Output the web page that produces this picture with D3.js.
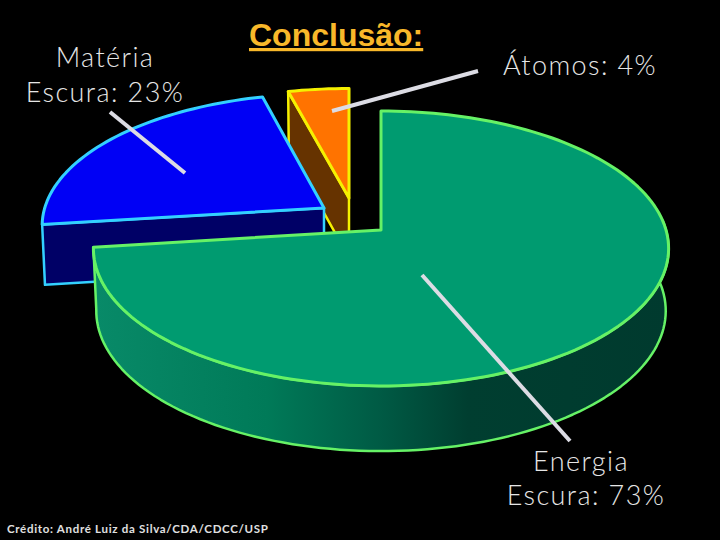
<!DOCTYPE html>
<html><head><meta charset="utf-8">
<script src="https://cdnjs.cloudflare.com/ajax/libs/d3/7.8.5/d3.min.js"></script>
<style>html,body{margin:0;padding:0;background:#000}svg{display:block}</style>
</head><body><svg id="c" width="720" height="540"></svg>
<script>
const categories = ["Energia Escura","Matéria Escura","Átomos"];
const values = [73,23,4];
const topColors = ["#009b70","#0000f5","#ff7300"];
const sideColors = ["url(#greenSide)","#000066","#663300"];
const strokes = ["#66f266","#33d0ff","#f5f000"];
const apexX = [381,324,349];
const apexY = [230,208,198];
const scaleX = [1,0.98,0.97];
const scaleY = [1,0.96,0.92];
const depth = [62,60,60];
const labelLines = [["Matéria","Escura: 23%"],["Átomos: 4%"],["Energia","Escura: 73%"]];

const svg = d3.select("#c");
const W=720,H=540;
svg.append("rect").attr("width",W).attr("height",H).attr("fill","#000");
const defs = svg.append("defs");
const grad = defs.append("linearGradient").attr("id","greenSide")
  .attr("gradientUnits","userSpaceOnUse").attr("x1",95).attr("x2",669).attr("y1",0).attr("y2",0);
[[0,"#088a68"],[0.3,"#007a58"],[0.5,"#005a44"],[0.65,"#003e30"],[1,"#003a2e"]]
 .forEach(s=>grad.append("stop").attr("offset",s[0]).attr("stop-color",s[1]));

const pie = d3.pie().sort(null)(values);
const K=-0.1345, B=285, A=135, SX=0.99, SY=1.02;
function proj(ang,r,i,low){
  const u=Math.sin(ang)*r, v=-Math.cos(ang)*r, w=1+K*v;
  let x=B*u/w*scaleX[i], y=A*v/w*scaleY[i];
  if(low){x*=SX;y=y*SY+depth[i];}
  return [apexX[i]+x,apexY[i]+y];
}
const line=d3.line();
function arcPts(a0,a1,i,low){
  const n=Math.max(2,Math.ceil((a1-a0)/0.03));
  return d3.range(n+1).map(k=>proj(a0+(a1-a0)*k/n,1,i,low));
}
function drawSide(i,pts,fill){
  svg.append("path").attr("d",line(pts)+"Z").attr("fill",fill)
    .attr("stroke",strokes[i]).attr("stroke-width",2.5).attr("stroke-linejoin","round");
}
function wall(i,ang){
  const c=proj(0,0,i,false), cl=proj(0,0,i,true), p=proj(ang,1,i,false), pl=proj(ang,1,i,true);
  drawSide(i,[c,p,pl,cl],sideColors[i]);
}
function rim(i,a0,a1){
  const t=arcPts(a0,a1,i,false), b=arcPts(a0,a1,i,true).reverse();
  drawSide(i,t.concat(b),sideColors[i]);
}
function topFace(d,i){
  const pts=[proj(0,0,i,false)].concat(arcPts(d.startAngle,d.endAngle,i,false));
  svg.append("path").attr("d",line(pts)+"Z").attr("fill",topColors[i])
    .attr("stroke",strokes[i]).attr("stroke-width",3).attr("stroke-linejoin","round");
}
wall(2,pie[2].startAngle); topFace(pie[2],2);
wall(1,pie[1].startAngle); topFace(pie[1],1);
rim(0,1.5,pie[0].endAngle); topFace(pie[0],0);

const leaders=[[110,112,185,173],[478,71,332,111],[422,275,570,441]];
svg.selectAll("line.l").data(leaders).join("line").attr("class","l")
  .attr("x1",d=>d[0]).attr("y1",d=>d[1]).attr("x2",d=>d[2]).attr("y2",d=>d[3])
  .attr("stroke","#dcdce4").attr("stroke-width",4);

function text(lines,xs,y,lh){
  const t=svg.append("text").attr("text-anchor","middle").attr("fill","#e6e6e6")
    .attr("font-family","Lato").attr("font-weight",300).attr("font-size",27).attr("letter-spacing",1.4);
  lines.forEach((l,k)=>t.append("tspan").attr("x",xs[k]).attr("y",y+k*lh).text(l));
}
text(labelLines[0],[105,105],67,35);
text(labelLines[1],[580],75,35);
text(labelLines[2],[581,586],471,34);

svg.append("text").attr("x",249).attr("y",46).attr("fill","#f8b82a")
  .attr("font-family","Liberation Sans").attr("font-weight",700).attr("font-size",32)
  .attr("text-decoration","underline").text("Conclusão:");
svg.append("text").attr("x",7).attr("y",533).attr("fill","#e0e0e0")
  .attr("font-family","Lato").attr("font-weight",700).attr("font-size",11.5)
  .attr("letter-spacing",0.7).text("Crédito: André Luiz da Silva/CDA/CDCC/USP");
</script></body></html>
